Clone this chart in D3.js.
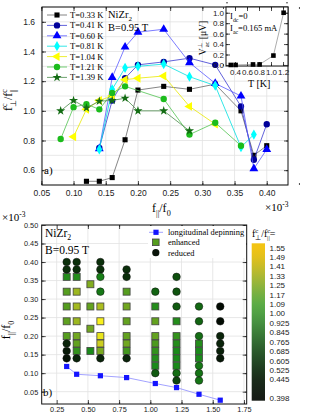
<!DOCTYPE html>
<html>
<head>
<meta charset="utf-8">
<script src="https://cdn.jsdelivr.net/npm/d3@7"></script>
<style>
  body { margin: 0; background: #fff; }
  svg { display: block; }
  .tick text { font-family: "Liberation Sans", Arial, sans-serif; fill: #222; }
  .serif { font-family: "Liberation Serif", "Times New Roman", serif; fill: #000; }
</style>
</head>
<body>
<svg width="313" height="416"></svg>
<script>
// ---- panel a) : f_perp/f_par vs f_par/f0 for several temperatures
const tempLabels = ["T=0.33 K", "T=0.41 K", "T=0.60 K", "T=0.81 K", "T=1.04 K", "T=1.21 K", "T=1.39 K"];
const x033 = [0.12, 0.14, 0.16, 0.18, 0.20, 0.24, 0.28, 0.32, 0.36, 0.38, 0.40];
const y033 = [0.525, 0.525, 0.55, 0.805, 1.14, 1.165, 1.145, 1.18, 1.0, 0.70, 0.765];
const x041 = [0.14, 0.16, 0.18, 0.20, 0.24, 0.28, 0.32, 0.36, 0.38, 0.40];
const y041 = [0.75, 1.07, 1.22, 1.31, 1.33, 1.355, 1.31, 1.03, 0.67, 0.91];
const x060 = [0.14, 0.16, 0.18, 0.20, 0.24, 0.28, 0.32, 0.36, 0.38, 0.40];
const y060 = [0.745, 1.225, 1.43, 1.53, 1.55, 1.325, 1.185, 1.10, 0.61, 0.74];
const x081 = [0.14, 0.16, 0.18, 0.20, 0.24, 0.28, 0.32, 0.36, 0.38];
const y081 = [0.74, 1.145, 1.29, 1.30, 1.315, 1.23, 1.17, 0.755, 0.84];
const x104 = [0.10, 0.12, 0.14, 0.16, 0.18, 0.20, 0.24, 0.28, 0.32];
const y104 = [0.825, 1.01, 1.07, 1.10, 1.21, 1.22, 1.235, 1.03, 0.91];
const x121 = [0.08, 0.10, 0.12, 0.14, 0.16, 0.18, 0.24, 0.28, 0.32, 0.36];
const y121 = [0.81, 1.025, 1.045, 1.01, 1.12, 1.165, 1.08, 0.84, 0.92, 0.765];
const x139 = [0.08, 0.10, 0.12, 0.14, 0.16, 0.18, 0.20, 0.24, 0.28];
const y139 = [1.0, 1.07, 1.02, 1.065, 1.07, 1.085, 1.0, 1.0, 0.865];

// inset: V_ac vs T
const insetT = [0.33, 0.41, 0.70, 0.81, 1.04, 1.21];
const insetV = [0.0, 0.0, 0.01, 0.01, 0.18, 1.0];

// ---- panel b) : map of ratio, columns of temperature
const colT = [0.33, 0.41, 0.52, 0.60, 0.81, 1.04, 1.21, 1.39, 1.56];
const colF = [
  [0.40, 0.38, 0.36, 0.32, 0.28, 0.24, 0.20, 0.18, 0.16, 0.14],
  [0.40, 0.38, 0.36, 0.32, 0.28, 0.24, 0.20, 0.18, 0.16, 0.14],
  [0.34, 0.28, 0.22, 0.16],
  [0.40, 0.38, 0.36, 0.32, 0.28, 0.24, 0.20, 0.18, 0.16, 0.14],
  [0.38, 0.36, 0.32, 0.28, 0.24, 0.20, 0.18, 0.16, 0.14],
  [0.32, 0.28, 0.24, 0.20, 0.18, 0.16, 0.14, 0.12, 0.10],
  [0.36, 0.32, 0.28, 0.24, 0.20, 0.18, 0.16, 0.14, 0.12, 0.10, 0.08],
  [0.28, 0.24, 0.20, 0.18, 0.16, 0.14, 0.12, 0.10, 0.08],
  [0.28, 0.24, 0.20, 0.18, 0.16, 0.14]
];
const colR = [
  [0.55, 0.55, 1.02, 1.12, 1.12, 1.14, 1.12, 0.50, 0.45, 0.42],
  [0.55, 0.55, 1.02, 1.28, 1.30, 1.28, 1.18, 1.15, 1.05, 0.50],
  [1.22, 1.15, 1.18, 1.0],
  [0.55, 0.55, 0.95, 0.90, 1.32, 1.55, 1.50, 1.40, 1.20, 0.50],
  [0.55, 0.55, 1.12, 1.18, 1.15, 1.15, 1.18, 1.08, 0.50],
  [0.80, 1.02, 1.15, 1.15, 1.10, 1.05, 1.02, 1.0, 0.75],
  [0.70, 0.72, 0.75, 1.02, 1.05, 1.02, 1.0, 1.0, 1.0, 0.85, 0.65],
  [0.82, 0.80, 0.85, 1.02, 1.0, 1.0, 0.90, 0.88, 0.88],
  [0.40, 0.40, 0.50, 0.50, 0.48, 0.45]
];
const depinT = [0.33, 0.41, 0.60, 0.81, 1.04, 1.21, 1.39, 1.56];
const depinF = [0.118, 0.097, 0.093, 0.088, 0.072, 0.061, 0.043, 0.027];

const barLevels = [1.55, 1.49, 1.41, 1.33, 1.25, 1.17, 1.09, 1.00, 0.925, 0.845, 0.765, 0.685, 0.605, 0.525, 0.445, 0.398];
const barLabels = ["1.55", "1.49", "1.41", "1.33", "1.25", "1.17", "1.09", "1.00", "0.925", "0.845", "0.765", "0.685", "0.605", "0.525", "0.445", "0.398"];
const barColors = ["#f2c414", "#e2c01c", "#c8bc28", "#acb834", "#90b43c", "#74b042", "#5cac46", "#50a044",
  "#469040", "#3c7e38", "#336c32", "#2b5a2b", "#244a25", "#1e3a1f", "#1a2c1a", "#161c16"];
const markLevels = [0.398, 0.5, 0.6, 0.7, 0.8, 0.9, 1.0, 1.1, 1.2, 1.3, 1.4, 1.55];
const markColors = ["#020a02", "#0a240a", "#0c3a0c", "#0e500e", "#126412", "#167816", "#1a8a1a",
  "#4c9a1e", "#7aaa20", "#a4ba20", "#ccce20", "#f8f01c"];

const svg = d3.select("svg");

// rich text with sub/superscripts: parts = [text, "sup"|"sub"|undefined, dx]
const rich = (text, parts, fs) => {
  let cur = 0;
  parts.forEach((p) => {
    const target = p[1] === "sup" ? -0.38 * fs : p[1] === "sub" ? 0.3 * fs : 0;
    const ts = text.append("tspan").attr("dy", target - cur).text(p[0]);
    if (p[1]) ts.attr("font-size", fs * 0.68);
    if (p[2]) ts.attr("dx", p[2]);
    cur = target;
  });
};

const addText = (x, y, fs, parts, rotate) => {
  const t = svg.append("text").attr("class", "serif").attr("font-size", fs);
  if (rotate) {
    t.attr("transform", `translate(${x},${y}) rotate(-90)`).attr("text-anchor", "middle");
  } else {
    t.attr("x", x).attr("y", y);
  }
  rich(t, parts, fs);
  return t;
};

// frame with inward ticks on all sides and grid
const drawFrame = (x, y, o) => {
  const [x0, x1] = x.range();
  const [y0, y1] = y.range(); // y0 bottom
  const g = svg.append("g");
  if (o.grid) {
    g.selectAll(".gx").data(o.xTicks).enter().append("line")
      .attr("x1", (d) => x(d)).attr("x2", (d) => x(d)).attr("y1", y0).attr("y2", y1)
      .attr("stroke", "#e2e2e2").attr("stroke-width", 0.8);
    g.selectAll(".gy").data(o.yGrid).enter().append("line")
      .attr("y1", (d) => y(d)).attr("y2", (d) => y(d)).attr("x1", x0).attr("x2", x1)
      .attr("stroke", "#e2e2e2").attr("stroke-width", 0.8);
  }
  const mk = (axisFn, scale, vals, size, fmt, tr, pad, fs) => {
    const a = axisFn(scale).tickValues(vals).tickSizeInner(-size).tickSizeOuter(0)
      .tickPadding(pad || 3).tickFormat(fmt || "");
    const ag = g.append("g").attr("transform", tr).call(a);
    ag.select(".domain").remove();
    ag.selectAll(".tick line").attr("stroke", "#222").attr("stroke-width", 0.8);
    ag.selectAll(".tick text").attr("font-size", fs || 8);
    return ag;
  };
  mk(d3.axisBottom, x, o.xTicks, 4, o.xFmt, `translate(0,${y0})`, o.xPad, o.fs);
  mk(d3.axisBottom, x, o.xMinor, 2, null, `translate(0,${y0})`);
  mk(d3.axisTop, x, o.xTicks, 4, null, `translate(0,${y1})`);
  mk(d3.axisTop, x, o.xMinor, 2, null, `translate(0,${y1})`);
  mk(d3.axisLeft, y, o.yTicks, 4, o.yFmt, `translate(${x0},0)`, o.yPad, o.fs);
  mk(d3.axisLeft, y, o.yMinor, 2, null, `translate(${x0},0)`);
  mk(d3.axisRight, y, o.yTicks, 4, null, `translate(${x1},0)`);
  mk(d3.axisRight, y, o.yMinor, 2, null, `translate(${x1},0)`);
  g.append("rect").attr("x", x0).attr("y", y1).attr("width", x1 - x0).attr("height", y0 - y1)
    .attr("fill", "none").attr("stroke", "#111").attr("stroke-width", 1);
  return g;
};

const range = (a, b, s) => d3.range(Math.round(a / s), Math.round(b / s) + 1).map((i) => +(i * s).toFixed(4));

// ================= panel a =================
const xA = d3.scaleLinear().domain([0.051, 0.433]).range([42, 288]);
const yA = d3.scaleLinear().domain([0.5, 1.7]).range([185, 7]);

const minorA = range(0.075, 0.425, 0.05);
drawFrame(xA, yA, {
  grid: true,
  xTicks: range(0.05, 0.40, 0.05), xMinor: minorA, xFmt: d3.format(".2f"), xPad: 5,
  yTicks: range(0.6, 1.6, 0.2), yMinor: range(0.7, 1.7, 0.2), yGrid: range(0.5, 1.7, 0.1),
  yFmt: d3.format(".1f"), yPad: 7, fs: 8.5
});

const sym = (type, size, rot) => {
  const p = d3.symbol().type(type).size(size);
  return { d: p(), rot: rot || 0 };
};
const series = [
  { x: x033, y: y033, fill: "#000", line: "#666", s: sym(d3.symbolSquare, 26) },
  { x: x041, y: y041, fill: "#00009a", line: "#3a3ad0", s: sym(d3.symbolCircle, 32) },
  { x: x060, y: y060, fill: "#0000ff", line: "#5a5aff", s: sym(d3.symbolTriangle, 34) },
  { x: x081, y: y081, fill: "#00ffff", line: "#00e0e0", s: sym(d3.symbolDiamond, 30) },
  { x: x104, y: y104, fill: "#ffff00", line: "#e8e800", s: sym(d3.symbolTriangle, 34, -90) },
  { x: x121, y: y121, fill: "#1cbc1c", line: "#52c452", s: sym(d3.symbolCircle, 32) },
  { x: x139, y: y139, fill: "#136c13", line: "#4a8a4a", s: sym(d3.symbolStar, 26) }
];

const line = d3.line().x((d) => xA(d[0])).y((d) => yA(d[1]));
series.forEach((s) => {
  const pts = s.x.map((v, i) => [v, s.y[i]]);
  svg.append("path").attr("d", line(pts)).attr("fill", "none")
    .attr("stroke", s.line).attr("stroke-width", 0.8);
  svg.selectAll(null).data(pts).enter().append("path")
    .attr("d", s.s.d)
    .attr("transform", (d) => `translate(${xA(d[0])},${yA(d[1])}) rotate(${s.s.rot})`)
    .attr("fill", s.fill);
});

// legend a
tempLabels.forEach((lab, i) => {
  const s = series[i];
  const ly = 15 + i * 10.4;
  svg.append("line").attr("x1", 47).attr("x2", 67).attr("y1", ly).attr("y2", ly)
    .attr("stroke", s.line).attr("stroke-width", 0.8);
  svg.append("path").attr("d", s.s.d).attr("transform", `translate(57,${ly}) rotate(${s.s.rot})`)
    .attr("fill", s.fill);
  svg.append("text").attr("class", "serif").attr("x", 70).attr("y", ly + 3)
    .attr("font-size", 8.6).text(lab);
});
addText(108, 18, 10.5, [["NiZr"], ["2", "sub"]]);
addText(108, 31, 10.5, [["B=0.95 T"]]);
addText(44, 174, 11, [["a)"]]);

// inset
const xI = d3.scaleLinear().domain([0.25, 1.283]).range([226, 288]);
const yI = d3.scaleLinear().domain([-0.02, 1.11]).range([66, 7]);
svg.append("rect").attr("x", 226).attr("y", 7).attr("width", 62).attr("height", 59).attr("fill", "#fff");
drawFrame(xI, yI, {
  grid: false,
  xTicks: range(0.4, 1.2, 0.2), xMinor: range(0.3, 1.3, 0.2).filter((d) => d < 1.28), xFmt: d3.format(".1f"), xPad: 3,
  yTicks: range(0.0, 1.0, 0.2), yMinor: range(0.1, 1.1, 0.2), yFmt: d3.format(".1f"), yPad: 2, fs: 8
});
const insetPts = insetT.map((t, i) => [t, insetV[i]]);
svg.append("path").attr("d", d3.line().x((d) => xI(d[0])).y((d) => yI(d[1]))(insetPts))
  .attr("fill", "none").attr("stroke", "#888").attr("stroke-width", 0.7);
svg.selectAll(null).data(insetPts).enter().append("rect")
  .attr("x", (d) => xI(d[0]) - 2.3).attr("y", (d) => yI(d[1]) - 2.3)
  .attr("width", 4.6).attr("height", 4.6).attr("fill", "#000");
addText(230, 19, 8.6, [["I"], ["dc", "sub"], ["=0"]]);
addText(230, 31, 8.6, [["I"], ["ac", "sub"], ["=0.165 mA"]]);
addText(206, 38, 9.5, [["V"], ["⊥", "sup"], ["ac", "sub", -4], [" [μV]"]], true);
addText(248, 87, 10, [["T [K]"]]);

// axis labels a
addText(12, 100, 12, [["f"], ["c", "sup"], ["⊥", "sub", -3.6], ["/f"], ["c", "sup"], ["||", "sub", -3.6]], true);
addText(152, 212, 12, [["f"], ["||", "sub"], ["/f"], ["0", "sub"]]);
addText(265, 211, 11, [["×10"], ["-3", "sup"]]);

// ================= panel b =================
const xB = d3.scaleLinear().domain([0.13, 1.772]).range([41.7, 246.7]);
const yB = d3.scaleLinear().domain([0.0167, 0.5]).range([404, 225]);
drawFrame(xB, yB, {
  grid: true,
  xTicks: range(0.25, 1.75, 0.25), xMinor: range(0.375, 1.625, 0.25), xFmt: d3.format(".2f"), xPad: 3,
  yTicks: range(0.05, 0.50, 0.05), yMinor: range(0.025, 0.475, 0.05), yGrid: range(0.05, 0.50, 0.05),
  yFmt: d3.format(".2f"), yPad: 3.5, fs: 7.3
});

const markColor = d3.scaleLinear().domain(markLevels).range(markColors).clamp(true);
colT.forEach((t, ci) => {
  const pts = colF[ci].map((f, i) => ({ t: t, f: f, r: colR[ci][i] }));
  svg.selectAll(null).data(pts.filter((d) => d.r >= 1)).enter().append("rect")
    .attr("x", (d) => xB(d.t) - 3.5).attr("y", (d) => yB(d.f) - 3.5)
    .attr("width", 7).attr("height", 7)
    .attr("fill", (d) => markColor(d.r)).attr("stroke", "#444").attr("stroke-width", 0.8);
  svg.selectAll(null).data(pts.filter((d) => d.r < 1)).enter().append("circle")
    .attr("cx", (d) => xB(d.t)).attr("cy", (d) => yB(d.f)).attr("r", 3.8)
    .attr("fill", (d) => markColor(d.r)).attr("stroke", "#111").attr("stroke-width", 0.5);
});

const depinPts = depinT.map((t, i) => [t, depinF[i]]);
svg.append("path").attr("d", d3.line().x((d) => xB(d[0])).y((d) => yB(d[1]))(depinPts))
  .attr("fill", "none").attr("stroke", "#8a8aff").attr("stroke-width", 0.8);
svg.selectAll(null).data(depinPts).enter().append("rect")
  .attr("x", (d) => xB(d[0]) - 2.6).attr("y", (d) => yB(d[1]) - 2.6)
  .attr("width", 5.2).attr("height", 5.2).attr("fill", "#1414ff");

// legend b
svg.append("rect").attr("x", 148).attr("y", 226).attr("width", 98).attr("height", 32).attr("fill", "#fff");
svg.append("line").attr("x1", 149).attr("x2", 163).attr("y1", 232.3).attr("y2", 232.3)
  .attr("stroke", "#8a8aff").attr("stroke-width", 0.8);
svg.append("rect").attr("x", 153.4).attr("y", 229.7).attr("width", 5.2).attr("height", 5.2).attr("fill", "#1414ff");
svg.append("rect").attr("x", 152.5).attr("y", 239).attr("width", 6.6).attr("height", 6.6)
  .attr("fill", markColor(1.12)).attr("stroke", "#444").attr("stroke-width", 0.8);
svg.append("circle").attr("cx", 155.8).attr("cy", 252.7).attr("r", 3.6).attr("fill", "#0a140a");
[["longitudinal depinning", 235.3], ["enhanced", 245.3], ["reduced", 255.7]].forEach((l) => {
  svg.append("text").attr("class", "serif").attr("x", 168).attr("y", l[1]).attr("font-size", 8.4).text(l[0]);
});
addText(45, 237, 11.5, [["NiZr"], ["2", "sub"]]);
addText(45, 254, 11.5, [["B=0.95 T"]]);
addText(43, 396, 11, [["b)"]]);
addText(10, 330, 12, [["f"], ["||", "sub"], ["/f"], ["0", "sub"]], true);
addText(2, 221, 11, [["×10"], ["-3", "sup"]]);

// colour bar
const barTop = 243.3, barBot = 400.7, barX = 251.7, barW = 13.3;
const barY = d3.scaleLinear().domain(d3.range(barLevels.length))
  .range(barLevels.map((d, i) => (i < barLevels.length - 1 ? 247.6 + i * 9.41 : 398.4)));
const grad = svg.append("defs").append("linearGradient").attr("id", "cbar")
  .attr("x1", 0).attr("x2", 0).attr("y1", 0).attr("y2", 1);
barLevels.forEach((v, i) => {
  grad.append("stop").attr("offset", (barY(i) - barTop) / (barBot - barTop)).attr("stop-color", barColors[i]);
});
svg.append("rect").attr("x", barX).attr("y", barTop).attr("width", barW).attr("height", barBot - barTop)
  .attr("fill", "url(#cbar)");
svg.selectAll(null).data(barLabels).enter().append("text")
  .attr("x", 269.5).attr("y", (d, i) => barY(i) + 3)
  .attr("font-family", "Liberation Sans, Arial, sans-serif").attr("font-size", 8).attr("fill", "#222")
  .text((d) => d);
addText(252, 237, 10, [["f"], ["c", "sup"], ["⊥", "sub", -3.2], ["/f"], ["c", "sup"], ["||", "sub", -3.2], ["="]]);
</script>
</body>
</html>
